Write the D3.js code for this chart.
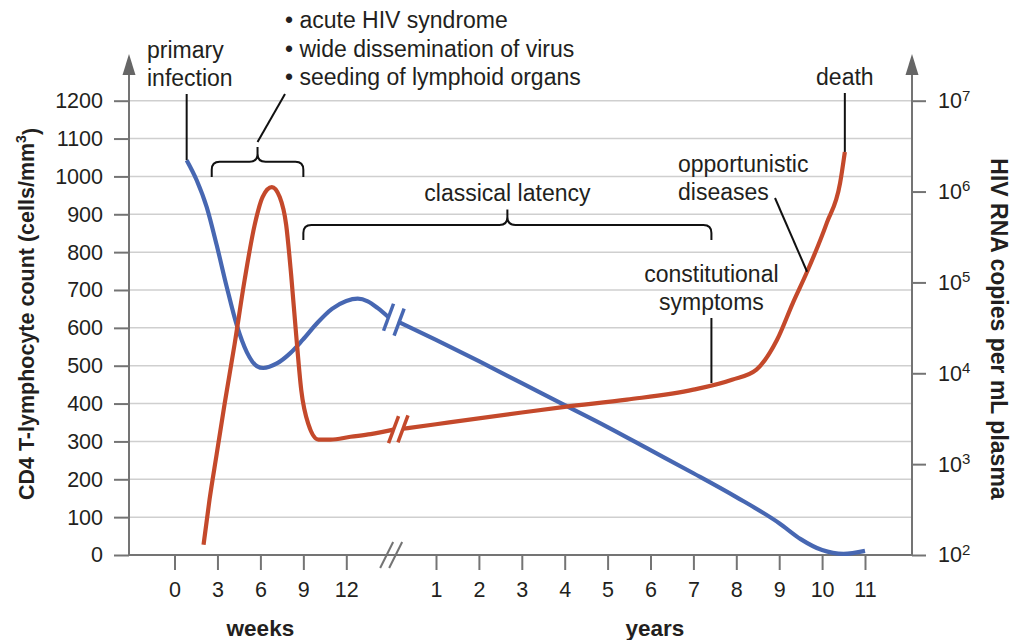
<!DOCTYPE html>
<html>
<head>
<meta charset="utf-8">
<script src="https://cdn.jsdelivr.net/npm/d3@7"></script>
<style>
  html, body { margin: 0; padding: 0; background: #fff; }
  svg { display: block; font-family: "Liberation Sans", Arial, Helvetica, sans-serif; }
</style>
</head>
<body>
<svg id="chart" width="1011" height="640"></svg>
<script>
// Tick values
const weekTicks = [0, 3, 6, 9, 12];
const yearTicks = [1, 2, 3, 4, 5, 6, 7, 8, 9, 10, 11];
const cd4Ticks = [0, 100, 200, 300, 400, 500, 600, 700, 800, 900, 1000, 1100, 1200];
const rnaTicks = [1e2, 1e3, 1e4, 1e5, 1e6, 1e7];

// CD4 T-lymphocyte count (cells/mm3): [time, value]
const cd4Weeks = [
  [0.85, 1043], [1.55, 990], [2.25, 919], [2.95, 818], [3.65, 708], [4.35, 607],
  [5.05, 536], [5.75, 499], [6.2, 494], [7.15, 506], [8.05, 532], [8.95, 568],
  [10.0, 614], [11.0, 650], [12.0, 671], [12.8, 677], [13.5, 670], [14.2, 652], [14.95, 628]
];
const cd4Years = [
  [0.14, 615], [1, 568], [2, 512], [3, 454], [4, 396], [5, 338], [6, 277],
  [7, 216], [8, 153], [9, 84], [9.5, 42], [10, 13], [10.5, 3], [11, 11]
];

// HIV RNA copies per mL plasma: [time, value]
const rnaWeeks = [
  [2.03, 130], [2.45, 410], [2.95, 1300], [3.5, 4600], [4.2, 21000], [4.9, 107000],
  [5.6, 430000], [6.15, 870000], [6.8, 1120000], [7.35, 870000], [7.8, 430000],
  [8.15, 120000], [8.5, 26300], [8.85, 6600], [9.35, 2750], [10.05, 1860],
  [10.9, 1860], [12.3, 2000], [13.7, 2140], [15.3, 2400]
];
const rnaYears = [
  [0.23, 2450], [1, 2750], [3, 3700], [4, 4270], [5.45, 5130], [7, 6600],
  [7.9, 8500], [8.47, 11000], [8.95, 23400], [9.32, 59700], [9.65, 131000],
  [10.11, 452000], [10.42, 1245000], [10.53, 2730000]
];

const BLUE = "#4767b2";
const RED = "#c4492b";
const AXIS = "#747474";
const GRID = "#cfcfcf";
const INK = "#231f20";

const svg = d3.select("#chart");

const plotLeft = 129, plotRight = 912, plotBottom = 555, plotTop = 100.7;

const xWeeks = d3.scaleLinear().domain([0, 12]).range([174.5, 346.3]);
const xYears = d3.scaleLinear().domain([1, 11]).range([436, 865]);
const yCD4 = d3.scaleLinear().domain([0, 1200]).range([plotBottom, plotTop]);
const yRNA = d3.scaleLog().domain([1e2, 1e7]).range([plotBottom, plotTop]);

// Horizontal grid
svg.append("g").selectAll("line")
  .data(cd4Ticks.filter(d => d > 0))
  .join("line")
  .attr("x1", plotLeft).attr("x2", plotRight)
  .attr("y1", d => yCD4(d)).attr("y2", d => yCD4(d))
  .attr("stroke", GRID).attr("stroke-width", 1.5);

// Axis styling helper
function styleAxis(g, fontSize) {
  g.select(".domain").remove();
  g.selectAll(".tick line").attr("stroke", AXIS).attr("stroke-width", 2);
  g.selectAll(".tick text").attr("fill", INK).style("font-size", fontSize + "px")
    .style("font-family", '"Liberation Sans", Arial, sans-serif');
}

// Left axis
svg.append("g").attr("transform", `translate(${plotLeft},0)`)
  .call(d3.axisLeft(yCD4).tickValues(cd4Ticks).tickSize(15).tickPadding(11).tickFormat(d3.format("d")))
  .call(g => styleAxis(g, 21.5));

// Right axis with superscript exponents
const rightAxis = svg.append("g").attr("transform", `translate(${plotRight},0)`)
  .call(d3.axisRight(yRNA).tickValues(rnaTicks).tickSize(14).tickPadding(12).tickFormat(() => ""))
  .call(g => styleAxis(g, 21.5));
rightAxis.selectAll(".tick text").each(function(d) {
  const t = d3.select(this);
  t.text(null);
  t.append("tspan").text("10");
  t.append("tspan").text(Math.round(Math.log10(d))).attr("dy", "-0.5em").style("font-size", "15px");
});

// Bottom axes (weeks, years)
svg.append("g").attr("transform", `translate(0,${plotBottom})`)
  .call(d3.axisBottom(xWeeks).tickValues(weekTicks).tickSize(15).tickPadding(12))
  .call(g => styleAxis(g, 21.5));
svg.append("g").attr("transform", `translate(0,${plotBottom})`)
  .call(d3.axisBottom(xYears).tickValues(yearTicks).tickSize(15).tickPadding(12))
  .call(g => styleAxis(g, 21.5));

// Axis lines
const axes = svg.append("g").attr("stroke", AXIS).attr("stroke-width", 2).attr("fill", "none");
axes.append("line").attr("x1", plotLeft).attr("x2", plotRight).attr("y1", plotBottom).attr("y2", plotBottom);
axes.append("line").attr("x1", plotLeft).attr("x2", plotLeft).attr("y1", plotBottom + 1).attr("y2", 70);
axes.append("line").attr("x1", plotRight).attr("x2", plotRight).attr("y1", plotBottom + 1).attr("y2", 70);
[plotLeft, plotRight].forEach(x => {
  svg.append("path").attr("d", `M${x},54 L${x - 6.5},75 L${x + 6.5},75 Z`).attr("fill", "#666");
});

// Break marks on the time axis
const gapX = (xWeeks(12) + xYears(1)) / 2;
[-4.5, 4.5].forEach(dx => {
  axes.append("line")
    .attr("x1", gapX + dx - 6.5).attr("y1", plotBottom + 13)
    .attr("x2", gapX + dx + 6.5).attr("y2", plotBottom - 13);
});

// Curves
const lineWeeks = (y) => d3.line().x(d => xWeeks(d[0])).y(d => y(d[1])).curve(d3.curveMonotoneX);
const lineYears = (y) => d3.line().x(d => xYears(d[0])).y(d => y(d[1])).curve(d3.curveMonotoneX);

const curves = svg.append("g").attr("fill", "none").attr("stroke-width", 4.2).attr("stroke-linecap", "butt");
curves.append("path").attr("d", lineWeeks(yCD4)(cd4Weeks)).attr("stroke", BLUE);
curves.append("path").attr("d", lineYears(yCD4)(cd4Years)).attr("stroke", BLUE);
curves.append("path").attr("d", lineWeeks(yRNA)(rnaWeeks)).attr("stroke", RED);
curves.append("path").attr("d", lineYears(yRNA)(rnaYears)).attr("stroke", RED);

// Break marks on each curve
function breakMark(x, y, color) {
  curves.append("line")
    .attr("x1", x - 5).attr("y1", y + 13.5)
    .attr("x2", x + 5).attr("y2", y - 13.5)
    .attr("stroke", color).attr("stroke-width", 3.5);
}
const lastOf = a => a[a.length - 1];
breakMark(xWeeks(lastOf(cd4Weeks)[0]), yCD4(lastOf(cd4Weeks)[1]), BLUE);
breakMark(xYears(cd4Years[0][0]), yCD4(cd4Years[0][1]), BLUE);
breakMark(xWeeks(lastOf(rnaWeeks)[0]), yRNA(lastOf(rnaWeeks)[1]), RED);
breakMark(xYears(rnaYears[0][0]), yRNA(rnaYears[0][1]), RED);

// Annotations
const ann = svg.append("g").attr("fill", INK).style("font-size", "23px");
const leaders = svg.append("g").attr("stroke", "#111").attr("stroke-width", 2).attr("fill", "none");

function brace(x0, x1, yh, yb, yt) {
  const r = 8, xc = (x0 + x1) / 2;
  return `M${x0},${yb} V${yh + r} Q${x0},${yh} ${x0 + r},${yh} H${xc - r} Q${xc},${yh} ${xc},${yh - r} V${yt}` +
         ` M${xc},${yh - r} Q${xc},${yh} ${xc + r},${yh} H${x1 - r} Q${x1},${yh} ${x1},${yh + r} V${yb}`;
}

// primary infection
const startCD4 = cd4Weeks[0];
ann.append("text").attr("x", 147).attr("y", 58).text("primary");
ann.append("text").attr("x", 147).attr("y", 86).text("infection");
leaders.append("line")
  .attr("x1", xWeeks(startCD4[0])).attr("x2", xWeeks(startCD4[0]))
  .attr("y1", 94).attr("y2", yCD4(startCD4[1]));

// acute phase
const acuteX0 = xWeeks(2.6), acuteX1 = xWeeks(9);
leaders.append("path").attr("d", brace(acuteX0, acuteX1, 161.7, 177, 147));
leaders.append("line").attr("x1", (acuteX0 + acuteX1) / 2).attr("y1", 142).attr("x2", 285).attr("y2", 94);
["• acute HIV syndrome", "• wide dissemination of virus", "• seeding of lymphoid organs"].forEach((t, i) => {
  ann.append("text").attr("x", 285).attr("y", 28 + i * 28.5).text(t);
});

// classical latency
const latX0 = xWeeks(9), latX1 = xYears(7.42);
leaders.append("path").attr("d", brace(latX0, latX1, 225, 240, 209.5));
ann.append("text").attr("x", (latX0 + latX1) / 2).attr("y", 200.5).attr("text-anchor", "middle").text("classical latency");

// constitutional symptoms
const csX = xYears(7.42);
ann.append("text").attr("x", csX).attr("y", 282).attr("text-anchor", "middle").text("constitutional");
ann.append("text").attr("x", csX).attr("y", 309.5).attr("text-anchor", "middle").text("symptoms");
leaders.append("line").attr("x1", csX).attr("x2", csX).attr("y1", 318).attr("y2", 383);

// opportunistic diseases
const od = rnaYears[10];
ann.append("text").attr("x", 678).attr("y", 172).text("opportunistic");
ann.append("text").attr("x", 678).attr("y", 200).text("diseases");
leaders.append("line").attr("x1", 775).attr("y1", 198).attr("x2", xYears(od[0])).attr("y2", yRNA(od[1]));

// death
const endRNA = lastOf(rnaYears);
ann.append("text").attr("x", xYears(endRNA[0])).attr("y", 85).attr("text-anchor", "middle").text("death");
leaders.append("line")
  .attr("x1", xYears(endRNA[0])).attr("x2", xYears(endRNA[0]))
  .attr("y1", 93).attr("y2", yRNA(endRNA[1]));

// Axis titles
const titles = svg.append("g").attr("fill", INK).style("font-weight", "bold");
titles.append("text").attr("x", xWeeks(6)).attr("y", 636).attr("text-anchor", "middle").style("font-size", "22.5px").text("weeks");
titles.append("text").attr("x", xYears(6.1)).attr("y", 636).attr("text-anchor", "middle").style("font-size", "22.5px").text("years");

const lt = titles.append("text").attr("transform", "translate(34,314) rotate(-90)")
  .attr("text-anchor", "middle").style("font-size", "21.5px");
lt.append("tspan").text("CD4 T-lymphocyte count (cells/mm");
lt.append("tspan").text("3").attr("dy", "-0.55em").style("font-size", "14px");
lt.append("tspan").text(")").attr("dy", "0.55em");

titles.append("text").attr("transform", "translate(991,329) rotate(90)")
  .attr("text-anchor", "middle").style("font-size", "23px").text("HIV RNA copies per mL plasma");
</script>
</body>
</html>
